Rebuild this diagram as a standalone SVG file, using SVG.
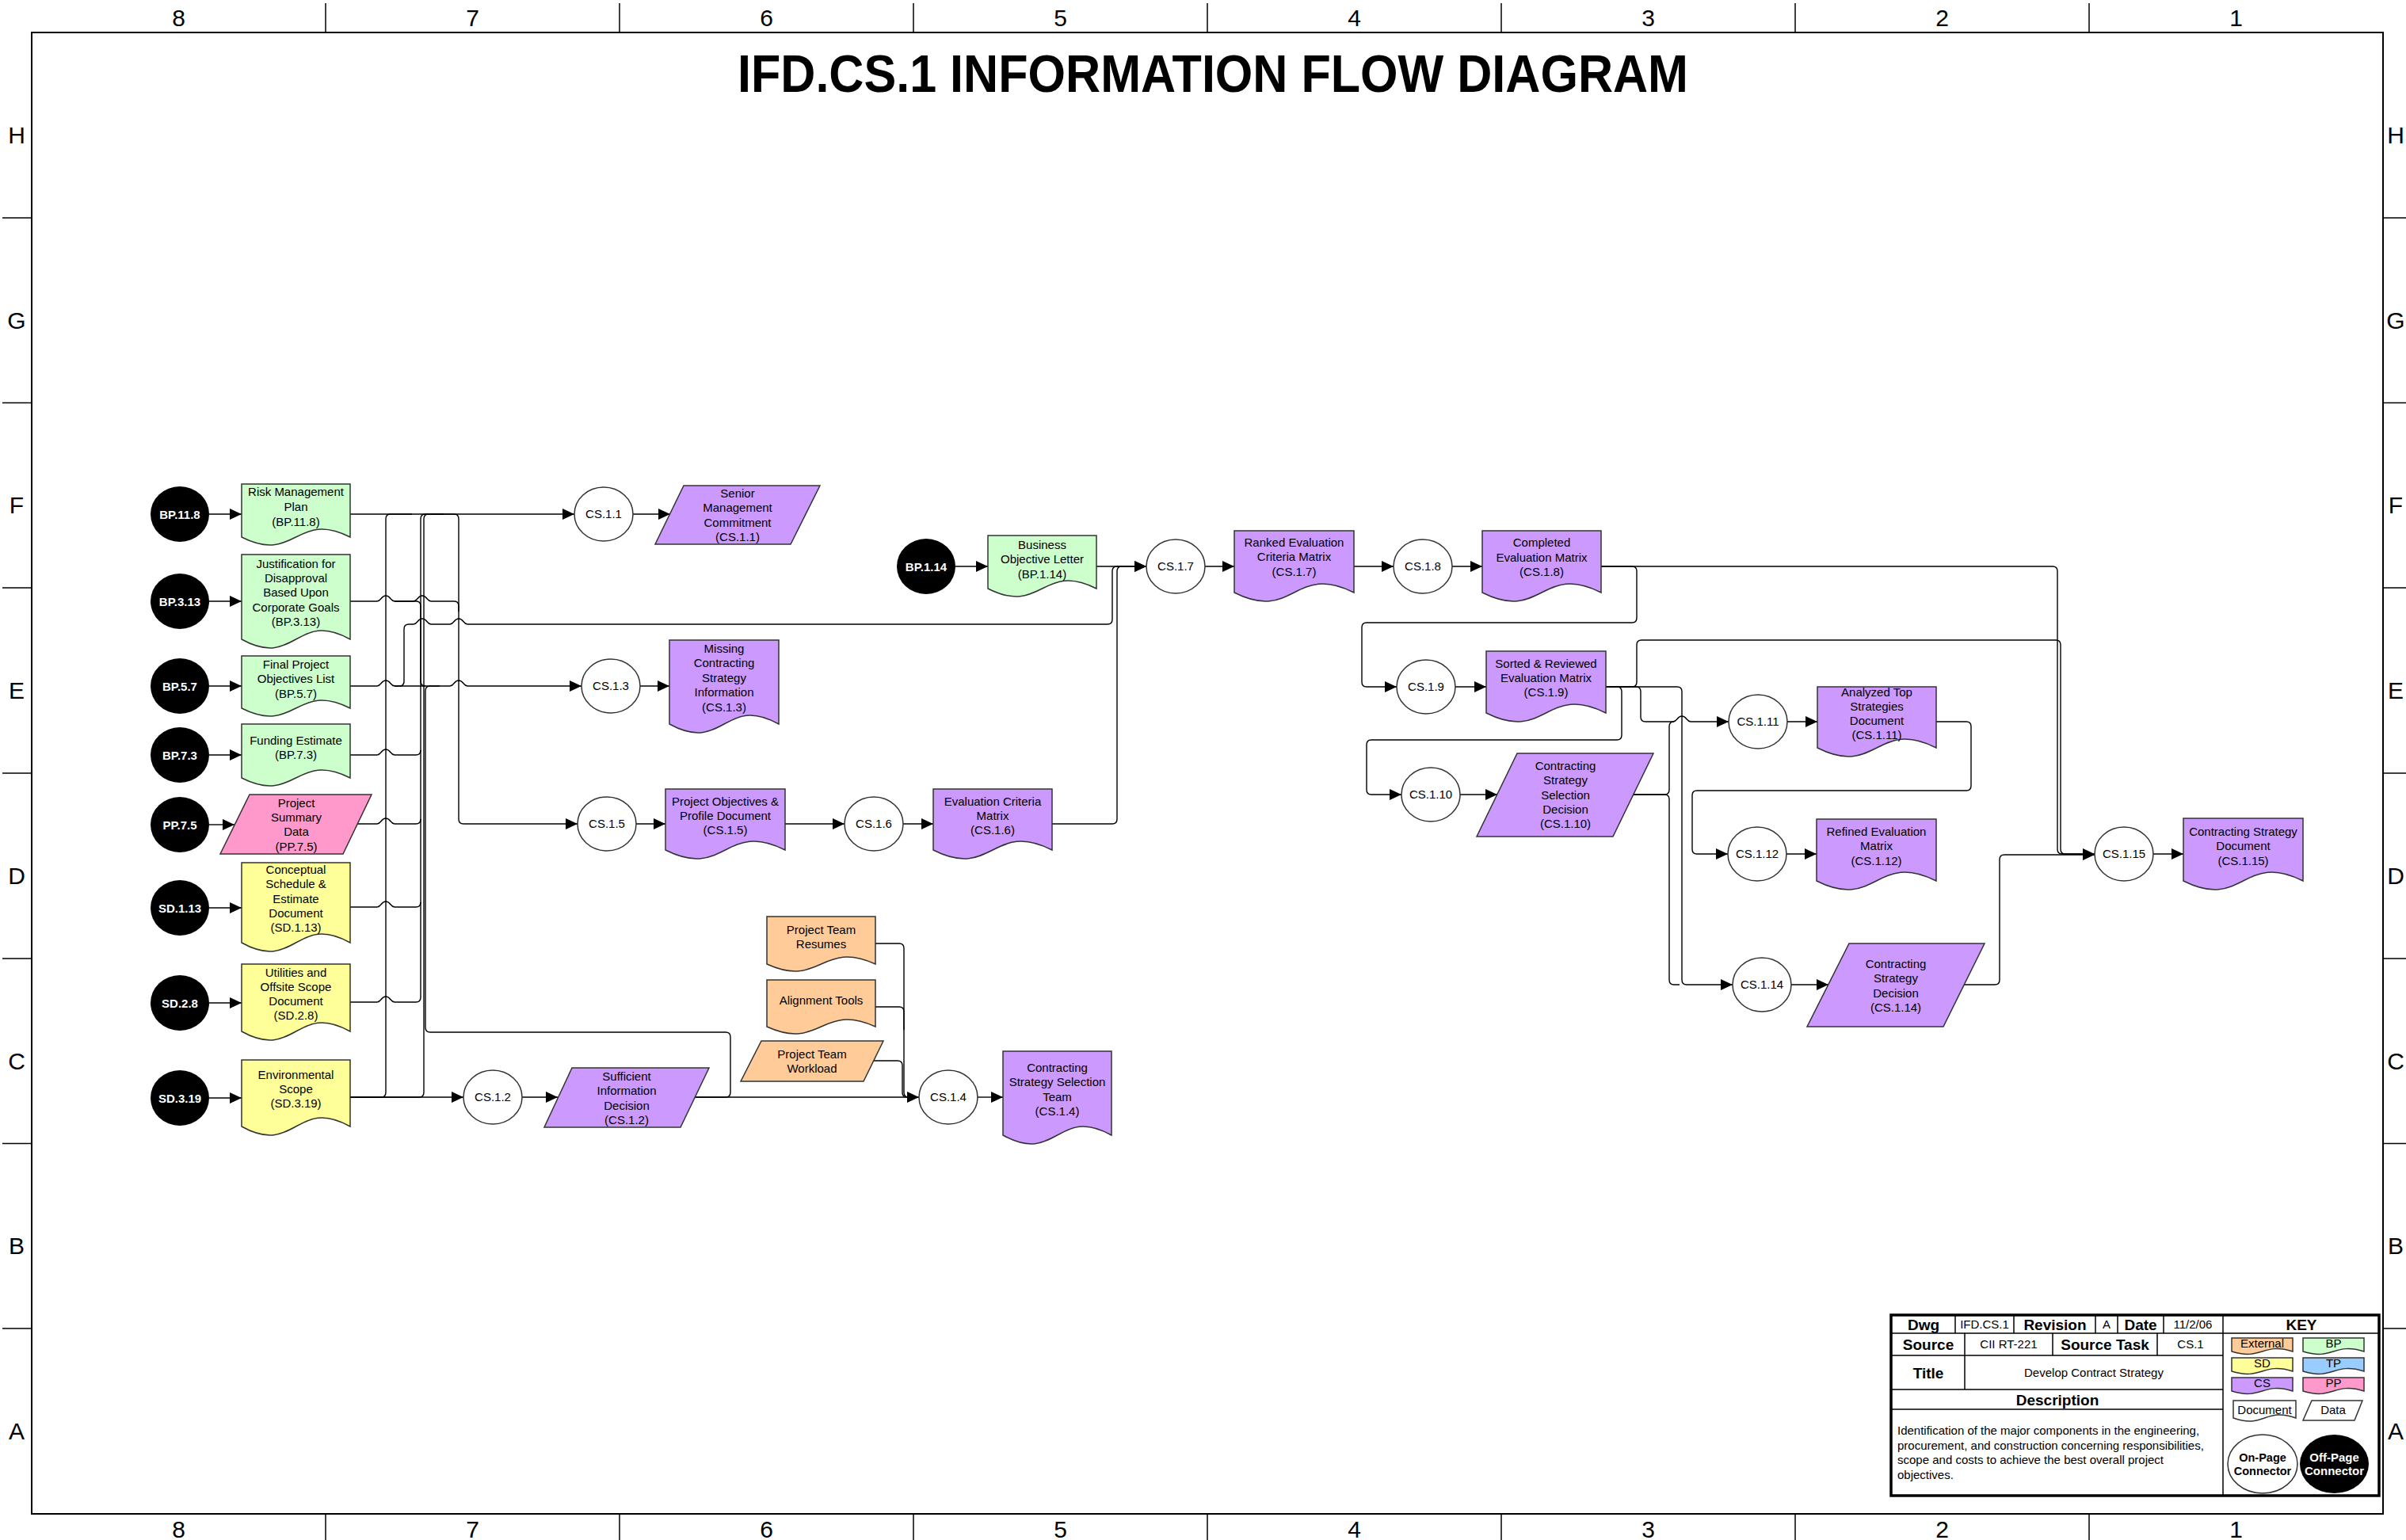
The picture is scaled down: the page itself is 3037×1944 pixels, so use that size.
<svg xmlns="http://www.w3.org/2000/svg" width="3037" height="1944" viewBox="0 0 3037 1944">
<defs>
<style>
.t{font-family:"Liberation Sans",Arial,sans-serif;font-size:15px;text-anchor:middle;fill:#000}
.tb{font-family:"Liberation Sans",Arial,sans-serif;font-weight:bold;text-anchor:middle;fill:#000}
.tw{font-family:"Liberation Sans",Arial,sans-serif;font-weight:bold;font-size:15px;text-anchor:middle;fill:#fff}
.lbl{font-family:"Liberation Sans",Arial,sans-serif;font-size:30px;text-anchor:middle;fill:#000}
.sh{stroke:#333;stroke-width:1.5}
.bp{fill:#CCFFCC}.sd{fill:#FFFF99}.cs{fill:#CC99FF}.pp{fill:#FF99CC}.ex{fill:#FFCC99}.tp{fill:#99CCFF}
.on{fill:#fff;stroke:#333;stroke-width:1.5}
.off{fill:#000}
.c{fill:none;stroke:#000;stroke-width:1.4}
.ln{stroke:#000;stroke-width:1.5;fill:none}
</style>
<marker id="arr" viewBox="0 0 15 14" refX="15" refY="7" markerWidth="15" markerHeight="14" markerUnits="userSpaceOnUse" orient="auto">
<path d="M0,0 L15,7 L0,14 Z" fill="#000"/>
</marker>
</defs>
<rect width="3037" height="1944" fill="#fff"/>

<g id="frame">
<rect x="40" y="41" width="2968" height="1870" fill="none" stroke="#000" stroke-width="2"/>
<path class="ln" d="M411,4V41M782,4V41M1153,4V41M1524,4V41M1895,4V41M2266,4V41M2637,4V41M411,1911V1944M782,1911V1944M1153,1911V1944M1524,1911V1944M1895,1911V1944M2266,1911V1944M2637,1911V1944M3,275H40M3,508.5H40M3,742H40M3,976H40M3,1210H40M3,1443.5H40M3,1677H40M3008,275H3037M3008,508.5H3037M3008,742H3037M3008,976H3037M3008,1210H3037M3008,1443.5H3037M3008,1677H3037"/>
<text class="lbl" x="225.5" y="33">8</text><text class="lbl" x="596.5" y="33">7</text><text class="lbl" x="967.5" y="33">6</text><text class="lbl" x="1338.5" y="33">5</text><text class="lbl" x="1709.5" y="33">4</text><text class="lbl" x="2080.5" y="33">3</text><text class="lbl" x="2451.5" y="33">2</text><text class="lbl" x="2822.5" y="33">1</text>
<text class="lbl" x="225.5" y="1941">8</text><text class="lbl" x="596.5" y="1941">7</text><text class="lbl" x="967.5" y="1941">6</text><text class="lbl" x="1338.5" y="1941">5</text><text class="lbl" x="1709.5" y="1941">4</text><text class="lbl" x="2080.5" y="1941">3</text><text class="lbl" x="2451.5" y="1941">2</text><text class="lbl" x="2822.5" y="1941">1</text>
<text class="lbl" x="21" y="181">H</text><text class="lbl" x="21" y="415">G</text><text class="lbl" x="21" y="648">F</text><text class="lbl" x="21" y="882">E</text><text class="lbl" x="21" y="1116">D</text><text class="lbl" x="21" y="1350">C</text><text class="lbl" x="21" y="1583">B</text><text class="lbl" x="21" y="1817">A</text>
<text class="lbl" x="3024" y="181">H</text><text class="lbl" x="3024" y="415">G</text><text class="lbl" x="3024" y="648">F</text><text class="lbl" x="3024" y="882">E</text><text class="lbl" x="3024" y="1116">D</text><text class="lbl" x="3024" y="1350">C</text><text class="lbl" x="3024" y="1583">B</text><text class="lbl" x="3024" y="1817">A</text>
</g>

<text id="title" class="tb" x="1531" y="116" font-size="66" textLength="1200" lengthAdjust="spacingAndGlyphs">IFD.CS.1 INFORMATION FLOW DIAGRAM</text>

<g id="connectors">
<!-- off-page to documents -->
<path class="c" marker-end="url(#arr)" d="M264,649H305"/>
<path class="c" marker-end="url(#arr)" d="M264,759H305"/>
<path class="c" marker-end="url(#arr)" d="M264,866H305"/>
<path class="c" marker-end="url(#arr)" d="M264,953H305"/>
<path class="c" marker-end="url(#arr)" d="M264,1041H296"/>
<path class="c" marker-end="url(#arr)" d="M264,1146H305"/>
<path class="c" marker-end="url(#arr)" d="M264,1266H305"/>
<path class="c" marker-end="url(#arr)" d="M264,1386H305"/>
<path class="c" marker-end="url(#arr)" d="M1206,715H1247"/>
<!-- left bus -->
<path class="c" marker-end="url(#arr)" d="M442,649H725"/>
<path class="c" d="M442,1385H481Q487,1385 487,1379V655Q487,649 493,649H520"/>
<path class="c" d="M442,759H476C481,759 481,752 487,752C493,752 493,759 498,759H525Q531,759 531,765V860Q531,866 537,866"/>
<path class="c" d="M498,759H522C527,759 527,752 533,752C539,752 539,759 544,759H573Q579,759 579,765V772"/>
<path class="c" d="M442,866H476C481,866 481,859 487,859C493,859 493,866 498,866H504Q510,866 510,860V794Q510,788 516,788H522C527,788 527,781 533,781C539,781 539,788 544,788H568C573,788 573,781 579,781C585,781 585,788 590,788H1398Q1404,788 1404,782V721Q1404,715 1410,715H1425"/>
<path class="c" marker-end="url(#arr)" d="M498,866H568C573,866 573,859 579,859C585,859 585,866 590,866H734"/>
<path class="c" d="M442,953H476C481,953 481,946 487,946C493,946 493,953 498,953H525Q531,953 531,947"/>
<path class="c" d="M451,1040H476C481,1040 481,1033 487,1033C493,1033 493,1040 498,1040H525Q531,1040 531,1034"/>
<path class="c" d="M442,1145H476C481,1145 481,1138 487,1138C493,1138 493,1145 498,1145H525Q531,1145 531,1139"/>
<path class="c" d="M442,1265H476C481,1265 481,1258 487,1258C493,1258 493,1265 498,1265H525Q531,1265 531,1259V655Q531,649 537,649H560"/>
<path class="c" d="M442,1385H529Q535,1385 535,1379V655Q535,649 541,649H560"/>
<path class="c" marker-end="url(#arr)" d="M537,649H573Q579,649 579,655V1034Q579,1040 585,1040H729"/>
<path class="c" d="M877,1385H916Q922,1385 922,1379V1309Q922,1303 916,1303H543Q537,1303 537,1297V872Q537,866 543,866H555"/>
<path class="c" marker-end="url(#arr)" d="M442,1385H585"/>
<path class="c" marker-end="url(#arr)" d="M659,1385H704"/>
<path class="c" marker-end="url(#arr)" d="M877,1385H1160"/>
<path class="c" d="M1105,1191H1135Q1141,1191 1141,1197V1379Q1141,1385 1147,1385H1155"/>
<path class="c" d="M1105,1271H1135Q1141,1271 1141,1277V1300"/>
<path class="c" d="M1103,1339H1133Q1139,1339 1139,1345V1379Q1139,1385 1145,1385"/>
<path class="c" marker-end="url(#arr)" d="M1234,1385H1266"/>
<path class="c" marker-end="url(#arr)" d="M799,649H846"/>
<path class="c" marker-end="url(#arr)" d="M808,866H845"/>
<path class="c" marker-end="url(#arr)" d="M803,1040H840"/>
<path class="c" marker-end="url(#arr)" d="M991,1040H1066"/>
<path class="c" marker-end="url(#arr)" d="M1140,1040H1178"/>
<path class="c" marker-end="url(#arr)" d="M1328,1040H1404Q1410,1040 1410,1034V721Q1410,715 1416,715H1447"/>
<path class="c" marker-end="url(#arr)" d="M1384,715H1447"/>
<path class="c" marker-end="url(#arr)" d="M1521,715H1558"/>
<path class="c" marker-end="url(#arr)" d="M1709,715H1759"/>
<path class="c" marker-end="url(#arr)" d="M1833,715H1871"/>
<!-- right part -->
<path class="c" marker-end="url(#arr)" d="M2021,715H2591Q2597,715 2597,721V1072Q2597,1078 2603,1078H2644"/>
<path class="c" marker-end="url(#arr)" d="M2021,715H2060Q2066,715 2066,721V780Q2066,786 2060,786H1725Q1719,786 1719,792V861Q1719,867 1725,867H1763"/>
<path class="c" marker-end="url(#arr)" d="M1837,867H1876"/>
<path class="c" marker-end="url(#arr)" d="M2027,867H2041Q2047,867 2047,873V928Q2047,934 2041,934H1731Q1725,934 1725,940V997Q1725,1003 1731,1003H1769"/>
<path class="c" d="M2027,867H2060Q2066,867 2066,861V814Q2066,808 2072,808H2595Q2601,808 2601,814V1072Q2601,1078 2607,1078H2630"/>
<path class="c" marker-end="url(#arr)" d="M2027,867H2065Q2071,867 2071,873V905Q2071,911 2077,911H2112C2117,911 2117,904 2123,904C2129,904 2129,911 2134,911H2182"/>
<path class="c" marker-end="url(#arr)" d="M2027,867H2117Q2123,867 2123,873V1237Q2123,1243 2129,1243H2187"/>
<path class="c" marker-end="url(#arr)" d="M1843,1003H1890"/>
<path class="c" d="M2062,1003H2101Q2107,1003 2107,997V917Q2107,911 2113,911"/>
<path class="c" d="M2062,1003H2101Q2107,1003 2107,1009V1237Q2107,1243 2113,1243H2120"/>
<path class="c" marker-end="url(#arr)" d="M2256,911H2294"/>
<path class="c" marker-end="url(#arr)" d="M2444,911H2482Q2488,911 2488,917V992Q2488,998 2482,998H2142Q2136,998 2136,1004V1072Q2136,1078 2142,1078H2181"/>
<path class="c" marker-end="url(#arr)" d="M2255,1078H2293"/>
<path class="c" marker-end="url(#arr)" d="M2261,1243H2308"/>
<path class="c" marker-end="url(#arr)" d="M2479,1243H2518Q2524,1243 2524,1237V1085Q2524,1079 2530,1079H2644"/>
<path class="c" marker-end="url(#arr)" d="M2718,1078H2756"/>
</g>

<!-- off-page connectors -->
<g id="op-BP.11.8"><ellipse class="off" cx="227" cy="649" rx="37" ry="35"/><text class="tw" x="227" y="654.5">BP.11.8</text></g>
<g id="op-BP.3.13"><ellipse class="off" cx="227" cy="759" rx="37" ry="35"/><text class="tw" x="227" y="764.5">BP.3.13</text></g>
<g id="op-BP.5.7"><ellipse class="off" cx="227" cy="866" rx="37" ry="35"/><text class="tw" x="227" y="871.5">BP.5.7</text></g>
<g id="op-BP.7.3"><ellipse class="off" cx="227" cy="953" rx="37" ry="35"/><text class="tw" x="227" y="958.5">BP.7.3</text></g>
<g id="op-PP.7.5"><ellipse class="off" cx="227" cy="1041" rx="37" ry="35"/><text class="tw" x="227" y="1046.5">PP.7.5</text></g>
<g id="op-SD.1.13"><ellipse class="off" cx="227" cy="1146" rx="37" ry="35"/><text class="tw" x="227" y="1151.5">SD.1.13</text></g>
<g id="op-SD.2.8"><ellipse class="off" cx="227" cy="1266" rx="37" ry="35"/><text class="tw" x="227" y="1271.5">SD.2.8</text></g>
<g id="op-SD.3.19"><ellipse class="off" cx="227" cy="1386" rx="37" ry="35"/><text class="tw" x="227" y="1391.5">SD.3.19</text></g>
<g id="op-BP.1.14"><ellipse class="off" cx="1169" cy="715" rx="37" ry="35"/><text class="tw" x="1169" y="720.5">BP.1.14</text></g>

<!-- input documents -->
<g id="doc-BP.11.8"><path class="bp sh" d="M305,611H442V678C373.5,643.4 373.5,712.6 305,678Z"/><text class="t"><tspan x="373.5" y="626">Risk Management</tspan><tspan x="373.5" y="645">Plan</tspan><tspan x="373.5" y="663.5">(BP.11.8)</tspan></text></g>
<g id="doc-BP.3.13"><path class="bp sh" d="M305,700H442V807C373.5,769 373.5,845 305,807Z"/><text class="t"><tspan x="373.5" y="716.5">Justification for</tspan><tspan x="373.5" y="734.5">Disapproval</tspan><tspan x="373.5" y="753">Based Upon</tspan><tspan x="373.5" y="771.5">Corporate Goals</tspan><tspan x="373.5" y="790">(BP.3.13)</tspan></text></g>
<g id="doc-BP.5.7"><path class="bp sh" d="M305,828H442V894C373.5,859.4 373.5,928.6 305,894Z"/><text class="t"><tspan x="373.5" y="843.5">Final Project</tspan><tspan x="373.5" y="862">Objectives List</tspan><tspan x="373.5" y="880.5">(BP.5.7)</tspan></text></g>
<g id="doc-BP.7.3"><path class="bp sh" d="M305,914H442V982C373.5,947.4 373.5,1016.6 305,982Z"/><text class="t"><tspan x="373.5" y="939.5">Funding Estimate</tspan><tspan x="373.5" y="958">(BP.7.3)</tspan></text></g>
<g id="data-PP.7.5"><polygon class="pp sh" points="315,1003 469,1003 433,1078 278,1078"/><text class="t"><tspan x="374" y="1018.5">Project</tspan><tspan x="374" y="1037">Summary</tspan><tspan x="374" y="1055">Data</tspan><tspan x="374" y="1073.5">(PP.7.5)</tspan></text></g>
<g id="doc-SD.1.13"><path class="sd sh" d="M305,1089H442V1190C373.5,1152 373.5,1228 305,1190Z"/><text class="t"><tspan x="373.5" y="1102.5">Conceptual</tspan><tspan x="373.5" y="1121">Schedule &amp;</tspan><tspan x="373.5" y="1139.5">Estimate</tspan><tspan x="373.5" y="1158">Document</tspan><tspan x="373.5" y="1176">(SD.1.13)</tspan></text></g>
<g id="doc-SD.2.8"><path class="sd sh" d="M305,1217H442V1302C373.5,1264 373.5,1340 305,1302Z"/><text class="t"><tspan x="373.5" y="1232.5">Utilities and</tspan><tspan x="373.5" y="1250.5">Offsite Scope</tspan><tspan x="373.5" y="1269">Document</tspan><tspan x="373.5" y="1287">(SD.2.8)</tspan></text></g>
<g id="doc-SD.3.19"><path class="sd sh" d="M305,1338H442V1422C373.5,1384 373.5,1460 305,1422Z"/><text class="t"><tspan x="373.5" y="1361.5">Environmental</tspan><tspan x="373.5" y="1379.5">Scope</tspan><tspan x="373.5" y="1398">(SD.3.19)</tspan></text></g>

<!-- on-page process connectors -->
<g id="CS.1.1"><ellipse class="on" cx="762" cy="649" rx="37" ry="34"/><text class="t" font-size="14.5" x="762" y="654">CS.1.1</text></g>
<g id="CS.1.2"><ellipse class="on" cx="622" cy="1385" rx="37" ry="34"/><text class="t" font-size="14.5" x="622" y="1390">CS.1.2</text></g>
<g id="CS.1.3"><ellipse class="on" cx="771" cy="866" rx="37" ry="34"/><text class="t" font-size="14.5" x="771" y="871">CS.1.3</text></g>
<g id="CS.1.4"><ellipse class="on" cx="1197" cy="1385" rx="37" ry="34"/><text class="t" font-size="14.5" x="1197" y="1390">CS.1.4</text></g>
<g id="CS.1.5"><ellipse class="on" cx="766" cy="1040" rx="37" ry="34"/><text class="t" font-size="14.5" x="766" y="1045">CS.1.5</text></g>
<g id="CS.1.6"><ellipse class="on" cx="1103" cy="1040" rx="37" ry="34"/><text class="t" font-size="14.5" x="1103" y="1045">CS.1.6</text></g>
<g id="CS.1.7"><ellipse class="on" cx="1484" cy="715" rx="37" ry="34"/><text class="t" font-size="14.5" x="1484" y="720">CS.1.7</text></g>
<g id="CS.1.8"><ellipse class="on" cx="1796" cy="715" rx="37" ry="34"/><text class="t" font-size="14.5" x="1796" y="720">CS.1.8</text></g>
<g id="CS.1.9"><ellipse class="on" cx="1800" cy="867" rx="37" ry="34"/><text class="t" font-size="14.5" x="1800" y="872">CS.1.9</text></g>
<g id="CS.1.10"><ellipse class="on" cx="1806" cy="1003" rx="37" ry="34"/><text class="t" font-size="14.5" x="1806" y="1008">CS.1.10</text></g>
<g id="CS.1.11"><ellipse class="on" cx="2219" cy="911" rx="37" ry="34"/><text class="t" font-size="14.5" x="2219" y="916">CS.1.11</text></g>
<g id="CS.1.12"><ellipse class="on" cx="2218" cy="1078" rx="37" ry="34"/><text class="t" font-size="14.5" x="2218" y="1083">CS.1.12</text></g>
<g id="CS.1.14"><ellipse class="on" cx="2224" cy="1243" rx="37" ry="34"/><text class="t" font-size="14.5" x="2224" y="1248">CS.1.14</text></g>
<g id="CS.1.15"><ellipse class="on" cx="2681" cy="1078" rx="37" ry="34"/><text class="t" font-size="14.5" x="2681" y="1083">CS.1.15</text></g>

<!-- outputs -->
<g id="out-CS.1.1"><polygon class="cs sh" points="863,613 1035,613 998,687 827,687"/><text class="t"><tspan x="931" y="627.5">Senior</tspan><tspan x="931" y="646">Management</tspan><tspan x="931" y="664.5">Commitment</tspan><tspan x="931" y="683">(CS.1.1)</tspan></text></g>
<g id="out-CS.1.3"><path class="cs sh" d="M845,808H983V914C914,876 914,952 845,914Z"/><text class="t"><tspan x="914" y="823.5">Missing</tspan><tspan x="914" y="842">Contracting</tspan><tspan x="914" y="860.5">Strategy</tspan><tspan x="914" y="879">Information</tspan><tspan x="914" y="897.5">(CS.1.3)</tspan></text></g>
<g id="out-CS.1.5"><path class="cs sh" d="M840,996H991V1073C915.5,1035 915.5,1111 840,1073Z"/><text class="t"><tspan x="915.5" y="1016.5">Project Objectives &amp;</tspan><tspan x="915.5" y="1035">Profile Document</tspan><tspan x="915.5" y="1053">(CS.1.5)</tspan></text></g>
<g id="out-CS.1.6"><path class="cs sh" d="M1178,996H1328V1073C1253,1035 1253,1111 1178,1073Z"/><text class="t"><tspan x="1253" y="1016.5">Evaluation Criteria</tspan><tspan x="1253" y="1035">Matrix</tspan><tspan x="1253" y="1053">(CS.1.6)</tspan></text></g>
<g id="out-CS.1.2"><polygon class="cs sh" points="722,1348 895,1348 859,1423 687,1423"/><text class="t"><tspan x="791" y="1363.5">Sufficient</tspan><tspan x="791" y="1382">Information</tspan><tspan x="791" y="1400.5">Decision</tspan><tspan x="791" y="1419">(CS.1.2)</tspan></text></g>
<g id="ext-resumes"><path class="ex sh" d="M968,1157H1105V1217C1036.5,1186 1036.5,1248 968,1217Z"/><text class="t"><tspan x="1036.5" y="1178.5">Project Team</tspan><tspan x="1036.5" y="1197">Resumes</tspan></text></g>
<g id="ext-alignment"><path class="ex sh" d="M968,1237H1105V1296C1036.5,1265 1036.5,1327 968,1296Z"/><text class="t" x="1036.5" y="1267.5">Alignment Tools</text></g>
<g id="ext-workload"><polygon class="ex sh" points="961,1314 1115,1314 1090,1365 935,1365"/><text class="t"><tspan x="1025" y="1335.5">Project Team</tspan><tspan x="1025" y="1354">Workload</tspan></text></g>
<g id="out-CS.1.4"><path class="cs sh" d="M1266,1327H1403V1433C1334.5,1395 1334.5,1471 1266,1433Z"/><text class="t"><tspan x="1334.5" y="1352.5">Contracting</tspan><tspan x="1334.5" y="1371">Strategy Selection</tspan><tspan x="1334.5" y="1389.5">Team</tspan><tspan x="1334.5" y="1408">(CS.1.4)</tspan></text></g>
<g id="doc-BP.1.14"><path class="bp sh" d="M1247,676H1384V743C1315.5,708.4 1315.5,777.6 1247,743Z"/><text class="t"><tspan x="1315.5" y="692.5">Business</tspan><tspan x="1315.5" y="711">Objective Letter</tspan><tspan x="1315.5" y="729.5">(BP.1.14)</tspan></text></g>
<g id="out-CS.1.7"><path class="cs sh" d="M1558,670H1709V748C1633.5,710 1633.5,786 1558,748Z"/><text class="t"><tspan x="1633.5" y="689.5">Ranked Evaluation</tspan><tspan x="1633.5" y="708">Criteria Matrix</tspan><tspan x="1633.5" y="727">(CS.1.7)</tspan></text></g>
<g id="out-CS.1.8"><path class="cs sh" d="M1871,670H2021V748C1946,710 1946,786 1871,748Z"/><text class="t"><tspan x="1946" y="690">Completed</tspan><tspan x="1946" y="708.5">Evaluation Matrix</tspan><tspan x="1946" y="727">(CS.1.8)</tspan></text></g>
<g id="out-CS.1.9"><path class="cs sh" d="M1876,822H2027V900C1951.5,862 1951.5,938 1876,900Z"/><text class="t"><tspan x="1951.5" y="842.5">Sorted &amp; Reviewed</tspan><tspan x="1951.5" y="861">Evaluation Matrix</tspan><tspan x="1951.5" y="879">(CS.1.9)</tspan></text></g>
<g id="out-CS.1.10"><polygon class="cs sh" points="1915,951 2087,951 2036,1056 1864,1056"/><text class="t"><tspan x="1976" y="971.5">Contracting</tspan><tspan x="1976" y="990">Strategy</tspan><tspan x="1976" y="1008.5">Selection</tspan><tspan x="1976" y="1027">Decision</tspan><tspan x="1976" y="1045">(CS.1.10)</tspan></text></g>
<g id="out-CS.1.11"><path class="cs sh" d="M2294,867H2444V944C2369,906 2369,982 2294,944Z"/><text class="t"><tspan x="2369" y="878.5">Analyzed Top</tspan><tspan x="2369" y="896.5">Strategies</tspan><tspan x="2369" y="915">Document</tspan><tspan x="2369" y="933">(CS.1.11)</tspan></text></g>
<g id="out-CS.1.12"><path class="cs sh" d="M2293,1034H2444V1112C2368.5,1074 2368.5,1150 2293,1112Z"/><text class="t"><tspan x="2368.5" y="1054.5">Refined Evaluation</tspan><tspan x="2368.5" y="1073">Matrix</tspan><tspan x="2368.5" y="1091.5">(CS.1.12)</tspan></text></g>
<g id="out-CS.1.14"><polygon class="cs sh" points="2334,1191 2505,1191 2453,1296 2281,1296"/><text class="t"><tspan x="2393" y="1221.5">Contracting</tspan><tspan x="2393" y="1240">Strategy</tspan><tspan x="2393" y="1258.5">Decision</tspan><tspan x="2393" y="1277">(CS.1.14)</tspan></text></g>
<g id="out-CS.1.15"><path class="cs sh" d="M2756,1033H2907V1112C2831.5,1074 2831.5,1150 2756,1112Z"/><text class="t"><tspan x="2831.5" y="1054.5">Contracting Strategy</tspan><tspan x="2831.5" y="1073">Document</tspan><tspan x="2831.5" y="1091.5">(CS.1.15)</tspan></text></g>

<!-- title block and key -->
<g id="titleblock">
<rect x="2387" y="1660" width="616" height="228" fill="#fff" stroke="#000" stroke-width="3.5"/>
<path class="ln" d="M2806,1660V1888M2387,1683H3003M2387,1711H2806M2387,1754H2806M2387,1779H2806M2468,1660V1683M2542,1660V1683M2645,1660V1683M2673,1660V1683M2731,1660V1683M2480,1683V1711M2591,1683V1711M2723,1683V1711M2480,1711V1754"/>
<text class="tb" font-size="19" x="2428" y="1679">Dwg</text>
<text class="t" font-size="14" x="2505" y="1677">IFD.CS.1</text>
<text class="tb" font-size="19" x="2594" y="1679">Revision</text>
<text class="t" font-size="14" x="2659" y="1677">A</text>
<text class="tb" font-size="19" x="2702" y="1679">Date</text>
<text class="t" font-size="14" x="2768" y="1677">11/2/06</text>
<text class="tb" font-size="19" x="2434" y="1704">Source</text>
<text class="t" font-size="14" x="2535.5" y="1702">CII RT-221</text>
<text class="tb" font-size="19" x="2657" y="1704">Source Task</text>
<text class="t" font-size="14" x="2765" y="1702">CS.1</text>
<text class="tb" font-size="19" x="2434" y="1740">Title</text>
<text class="t" font-size="14.5" x="2643" y="1738">Develop Contract Strategy</text>
<text class="tb" font-size="19" x="2597" y="1774">Description</text>
<text class="t" font-size="14.5" text-anchor="start"><tspan x="2395" y="1811" text-anchor="start">Identification of the major components in the engineering,</tspan><tspan x="2395" y="1829.5" text-anchor="start">procurement, and construction concerning responsibilities,</tspan><tspan x="2395" y="1848" text-anchor="start">scope and costs to achieve the best overall project</tspan><tspan x="2395" y="1866.5" text-anchor="start">objectives.</tspan></text>
<text class="tb" font-size="19" x="2905" y="1679">KEY</text>
</g>
<g id="key">
<path class="ex sh" d="M2817,1689H2894V1706C2855.5,1694 2855.5,1718 2817,1706Z"/><text class="t" font-size="14" x="2855.5" y="1701">External</text>
<path class="bp sh" d="M2907,1689H2984V1706C2945.5,1694 2945.5,1718 2907,1706Z"/><text class="t" font-size="14" x="2945.5" y="1701">BP</text>
<path class="sd sh" d="M2817,1714H2894V1731C2855.5,1719 2855.5,1743 2817,1731Z"/><text class="t" font-size="14" x="2855.5" y="1726">SD</text>
<path class="tp sh" d="M2907,1714H2984V1731C2945.5,1719 2945.5,1743 2907,1731Z"/><text class="t" font-size="14" x="2945.5" y="1726">TP</text>
<path class="cs sh" d="M2817,1739H2894V1756C2855.5,1744 2855.5,1768 2817,1756Z"/><text class="t" font-size="14" x="2855.5" y="1751">CS</text>
<path class="pp sh" d="M2907,1739H2984V1756C2945.5,1744 2945.5,1768 2907,1756Z"/><text class="t" font-size="14" x="2945.5" y="1751">PP</text>
<path class="sh" fill="#fff" d="M2819,1768H2898V1790C2858.5,1776 2858.5,1804 2819,1790Z"/><text class="t" font-size="14.5" x="2858.5" y="1785">Document</text>
<polygon class="sh" fill="#fff" points="2918,1768 2982,1768 2972,1793 2907,1793"/><text class="t" font-size="14.5" x="2945" y="1785">Data</text>
<ellipse class="on" cx="2856" cy="1848" rx="44" ry="37"/><text class="tb" font-size="14.5"><tspan x="2856" y="1845">On-Page</tspan><tspan x="2856" y="1862">Connector</tspan></text>
<ellipse class="off" cx="2946.5" cy="1848" rx="43.5" ry="37"/><text class="tw" font-size="14.5"><tspan x="2946.5" y="1845">Off-Page</tspan><tspan x="2946.5" y="1862">Connector</tspan></text>
</g>
</svg>
